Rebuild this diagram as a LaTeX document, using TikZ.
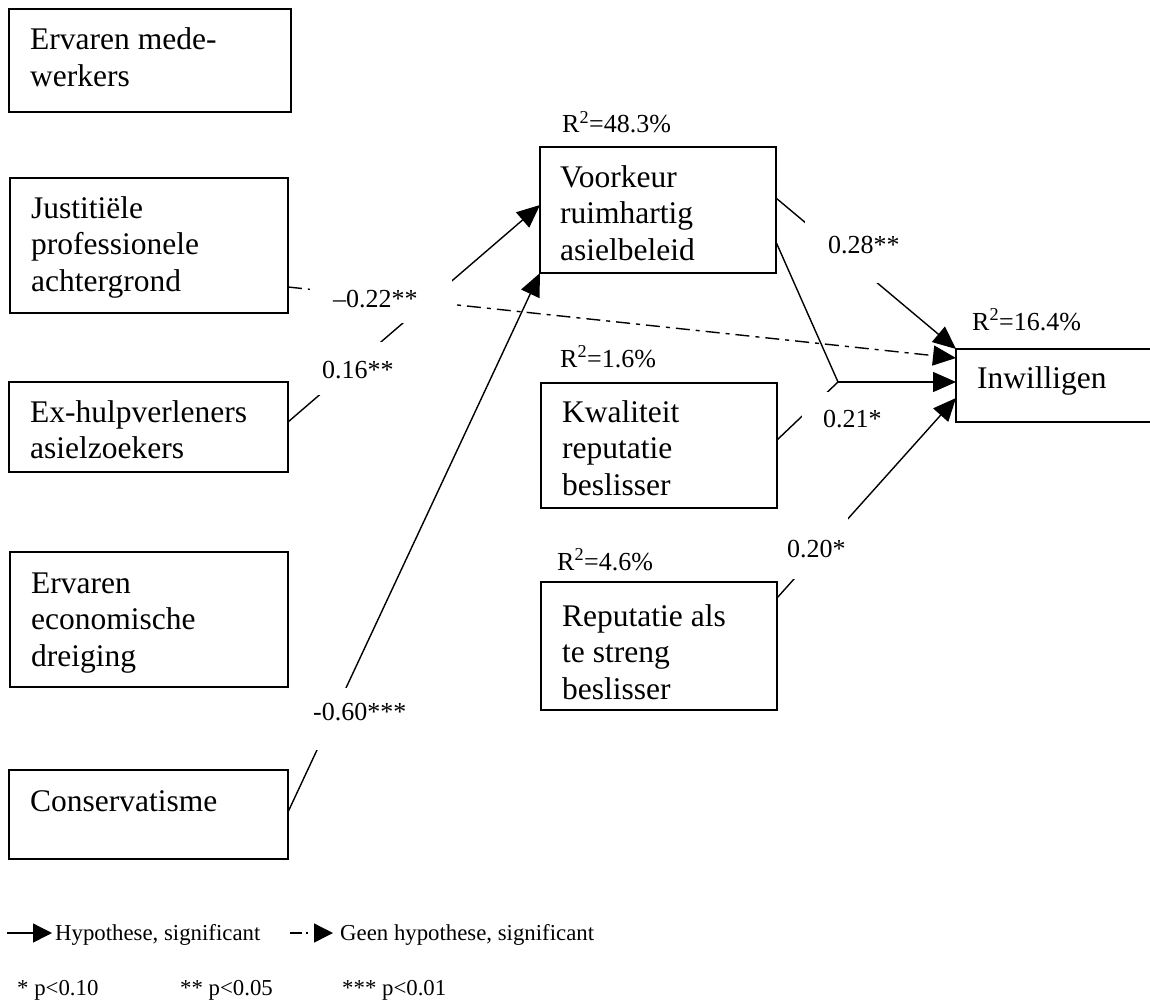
\documentclass[tikz,border=0pt]{standalone}
\usepackage{fontspec}
\setmainfont{Liberation Serif}
\usetikzlibrary{arrows.meta,calc}
\tikzset{
  box/.style={draw, line width=1.8pt, anchor=north west, inner sep=0pt, outer sep=0pt},
  boxtxt/.style={anchor=base west, inner sep=0pt, align=left, font=\fontsize{31.5}{36.5}\selectfont},
  lbl/.style={anchor=base west, inner sep=0pt, font=\fontsize{26}{30}\selectfont},
  leg/.style={anchor=base west, inner sep=0pt, font=\fontsize{22.8}{26}\selectfont},
  conn/.style={line width=1.4pt, -{Triangle[length=23pt,width=20pt]}},
  legarrow/.style={line width=1.4pt, -{Triangle[length=19pt,width=19pt]}},
  plainline/.style={line width=1.4pt},
  dashdot/.style={dash pattern=on 14pt off 6pt on 4pt off 6pt},
  legdashdot/.style={dash pattern=on 12pt off 4pt on 2pt off 40pt},
  whitemask/.style={fill=white},
}
\begin{document}
\begin{tikzpicture}[x=1pt,y=-1pt]
\useasboundingbox (0,0) rectangle (1150,1003);
\clip (0,0) rectangle (1150,1003);

% boxes
\node[box, minimum width=282pt, minimum height=103pt] (med)  at (9,9)     {};
\node[box, minimum width=278pt, minimum height=135pt] (just) at (10,178)  {};
\node[box, minimum width=279pt, minimum height=90pt]  (exh)  at (9,382)   {};
\node[box, minimum width=278pt, minimum height=135pt] (eco)  at (10,552)  {};
\node[box, minimum width=279pt, minimum height=89pt]  (cons) at (9,770)   {};
\node[box, minimum width=236pt, minimum height=126pt] (voor) at (540,147) {};
\node[box, minimum width=236pt, minimum height=125pt] (kwal) at (541,383) {};
\node[box, minimum width=236pt, minimum height=128pt] (rep)  at (541,582) {};
\node[box, minimum width=200pt, minimum height=73pt]  (inw)  at (956,349) {};

% box texts (base anchor = baseline of the last line)
\node[boxtxt] (medT)  at ($(med.north west)+(21,77.5)$)  {Ervaren mede-\\werkers};
\node[boxtxt] (justT) at ($(just.north west)+(21,113)$)  {Justitiële\\professionele\\achtergrond};
\node[boxtxt] (exhT)  at ($(exh.north west)+(21,76.5)$)  {Ex-hulpverleners\\asielzoekers};
\node[boxtxt] (ecoT)  at ($(eco.north west)+(21,114)$)   {Ervaren\\economische\\dreiging};
\node[boxtxt] (consT) at ($(cons.north west)+(21,41)$)   {Conservatisme};
\node[boxtxt] (voorT) at ($(voor.north west)+(20,113)$)  {Voorkeur\\ruimhartig\\asielbeleid};
\node[boxtxt] (kwalT) at ($(kwal.north west)+(21,112)$)  {Kwaliteit\\reputatie\\beslisser};
\node[boxtxt] (repT)  at ($(rep.north west)+(21,117)$)   {Reputatie als\\te streng\\beslisser};
\node[boxtxt] (inwT)  at ($(inw.north west)+(21,39)$)    {Inwilligen};

% connectors
\coordinate (j) at (838,382);
\draw[conn] ([yshift=5pt]exh.east) -- ([yshift=5pt]voor.west);
\draw[conn, dashdot] ([yshift=-41.5pt]just.east) -- ([yshift=27.5pt]inw.west);
\draw[conn] ([yshift=2.5pt]cons.east) -- (voor.south west);
\draw[conn] ([yshift=12pt]voor.east) -- (inw.north west);
\draw[plainline] ([yshift=-32pt]voor.east) -- (j);
\draw[plainline] ([yshift=5.5pt]kwal.east) -- (j);
\draw[conn] (j) -- ([yshift=3.5pt]inw.west);
\draw[conn] ([yshift=48pt]rep.east) -- ([yshift=-12.5pt]inw.west);

% white label backgrounds
\fill[whitemask] (805,215) rectangle (905,283);
\fill[whitemask] (310,268) rectangle (452,323);
\fill[whitemask] (300,342) rectangle (400,395);
\fill[whitemask] (300,688) rectangle (420,750);
\fill[whitemask] (802,392) rectangle (885,440);
\fill[whitemask] (782,508) rectangle (848,579);

% path coefficients
\node[lbl] (c28) at (828,253) {0.28**};
\node[lbl] (c22) at (333,307) {–0.22**};
\node[lbl] (c16) at (322,378) {0.16**};
\node[lbl] (c21) at (823,427) {0.21*};
\node[lbl] (c20) at (787,557) {0.20*};
\node[lbl] (c60) at (313,720) {-0.60***};

% R squared
\node[lbl] (r1) at (562,133) {R\textsuperscript{2}=48.3\%};
\node[lbl] (r2) at (972,330) {R\textsuperscript{2}=16.4\%};
\node[lbl] (r3) at (560,367) {R\textsuperscript{2}=1.6\%};
\node[lbl] (r4) at (557,570) {R\textsuperscript{2}=4.6\%};

% legend
\coordinate (l1a) at (7,933);
\coordinate (l1b) at (52,933);
\draw[legarrow] (l1a) -- (l1b);
\node[leg] (leg1) at (55,940) {Hypothese, significant};
\coordinate (l2a) at (290,933);
\coordinate (l2b) at (333,933);
\draw[legarrow, legdashdot] (l2a) -- (l2b);
\node[leg] (leg2) at (340,940) {Geen hypothese, significant};
\node[leg] (p1) at (17,995)  {* p<0.10};
\node[leg] (p2) at (180,995) {** p<0.05};
\node[leg] (p3) at (342,995) {*** p<0.01};
\end{tikzpicture}
\end{document}
